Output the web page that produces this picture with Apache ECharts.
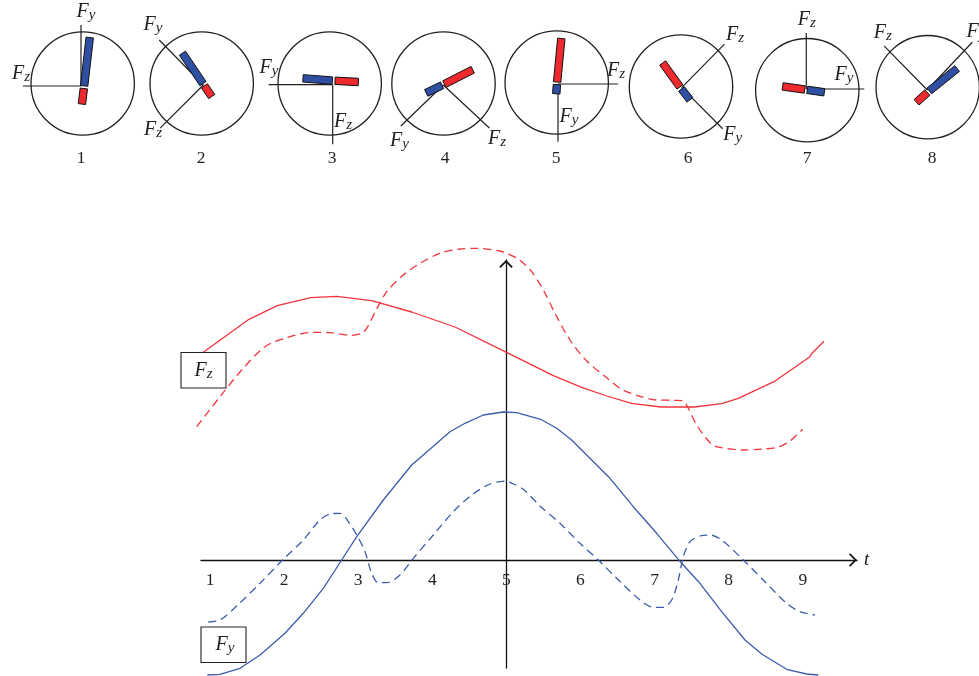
<!DOCTYPE html>
<html>
<head>
<meta charset="utf-8">
<style>html,body{margin:0;padding:0;background:#fff}#c{width:979px;height:676px}</style>
<script src="https://cdn.jsdelivr.net/npm/echarts@6/dist/echarts.min.js"></script>
</head>
<body>
<div id="c"></div>
<script>
// ---- data: curves (t, force) ----
const timeTicks = [1,2,3,4,5,6,7,8,9];
const fzSolid = [[0.91,2.077],[1.526,2.407],[1.908,2.543],[2.359,2.623],[2.71,2.637],[3.182,2.593],[3.722,2.48],[4.306,2.33],[4.981,2.083],[5.633,1.843],[6.016,1.727],[6.354,1.64],[6.691,1.567],[7.086,1.53],[7.536,1.53],[7.905,1.563],[8.13,1.617],[8.611,1.783],[9.097,2.033],[9.115,2.06],[9.286,2.187]];
const fzDashed = [[0.821,1.333],[1.135,1.633],[1.428,1.9],[1.742,2.133],[2.035,2.223],[2.394,2.277],[2.619,2.273],[2.912,2.247],[3.047,2.267],[3.115,2.317],[3.25,2.51],[3.385,2.683],[3.609,2.85],[3.834,2.967],[4.104,3.067],[4.374,3.11],[4.599,3.117],[4.913,3.09],[4.981,3.073],[5.161,3.01],[5.341,2.883],[5.498,2.7],[5.656,2.467],[5.858,2.2],[6.084,1.99],[6.354,1.823],[6.556,1.707],[6.803,1.637],[7.028,1.6],[7.252,1.597],[7.379,1.593],[7.455,1.517],[7.568,1.35],[7.77,1.157],[7.905,1.123],[8.175,1.1],[8.467,1.11],[8.669,1.13],[8.827,1.19],[8.998,1.307]];
const fySolid = [[0.964,-1.15],[1.135,-1.143],[1.405,-1.083],[1.675,-0.95],[2.012,-0.733],[2.259,-0.533],[2.529,-0.283],[2.777,0],[2.98,0.233],[3.339,0.6],[3.722,0.95],[4.239,1.283],[4.441,1.367],[4.688,1.45],[4.958,1.48],[5.139,1.473],[5.463,1.407],[5.679,1.317],[5.881,1.2],[6.128,1.017],[6.398,0.817],[6.712,0.533],[7.028,0.267],[7.365,-0.033],[7.612,-0.233],[7.905,-0.517],[8.22,-0.8],[8.445,-0.94],[8.782,-1.093],[9.052,-1.14],[9.209,-1.15]];
const fyDashed = [[0.977,-0.62],[1.135,-0.6],[1.36,-0.46],[1.675,-0.233],[1.989,0.007],[2.259,0.2],[2.484,0.4],[2.619,0.46],[2.754,0.467],[2.845,0.407],[2.98,0.25],[3.092,0.083],[3.182,-0.133],[3.271,-0.227],[3.385,-0.227],[3.564,-0.15],[3.744,0.017],[4.013,0.25],[4.283,0.483],[4.532,0.65],[4.779,0.76],[5.004,0.79],[5.049,0.777],[5.228,0.707],[5.453,0.54],[5.723,0.367],[5.993,0.167],[6.24,0],[6.488,-0.183],[6.803,-0.4],[6.982,-0.473],[7.117,-0.473],[7.231,-0.4],[7.32,-0.2],[7.387,0.033],[7.478,0.183],[7.612,0.24],[7.747,0.25],[7.905,0.2],[8.197,0],[8.467,-0.2],[8.782,-0.433],[8.962,-0.517],[9.164,-0.55]];

// ---- data: the eight dials ----
const dialNames   = ['1','2','3','4','5','6','7','8'];
const fyAxisAngle = [90,134.4,180,224,270,315,0,46.7];
const fyAxisLen   = [61,63,64,59,57.7,58,58,65.6];
const fzAxisAngle = [180,225,270,317,0,45.5,90,134.4];
const fzAxisLen   = [58,61,59.6,63,60,61,56,61.5];
const blueAngle   = [83.4,124,175.6,205.7,266,308,352,38.8];
const blueLen     = [50,38,30.8,19,10.5,15,18.5,37];
const redAngle    = [263,304,357,27,84.5,125.8,172,222];
const redLen      = [17,14.3,24.7,33,45,30.8,23.6,15.8];

// ---- layout (pixels) ----
const axisOrigin  = [[81,86],[203.3,85],[332.7,84.7],[443.3,85],[558,84],[681.7,87.7],[806.3,89],[927.3,90]];
const circleAt    = [[82.7,83.5],[201.7,83.5],[329.7,83.5],[443.5,83.5],[556.7,82.5],[681,86.5],[807.3,90.2],[927.7,87.2]];
const pivotAt     = [[84,87.2],[203.7,84.7],[333.7,80.7],[443.3,84.7],[557,83.3],[680.7,88],[806,89.7],[928.3,91.7]];
const fyLabelAt   = [[86,12],[153,25],[269,68],[399.5,141],[569,117],[732.7,135],[844,75],[976,32]];
const fzLabelAt   = [[21,74],[153,130],[343,122],[497,139],[616,71],[735,35],[806.7,20],[882.7,33]];
const numberAt    = [[81,158],[201,158],[332,158],[445,158],[556,158],[688,158],[807,158],[932,158]];
const circleR = 51.7, barW = 7.4;

const SERIF = '"Liberation Serif","DejaVu Serif",serif';
const INK = '#231f20', BLUE = '#2f50a2', RED = '#ee2a2e', BLUE_LINE='#3c5cab', RED_LINE='#f1333b';

function forceText(sub){
  return {
    text:'{F|F}{s|'+sub+'}',
    rich:{
      F:{fontFamily:SERIF,fontStyle:'italic',fontSize:20,fill:INK,color:INK,lineHeight:22},
      s:{fontFamily:SERIF,fontStyle:'italic',fontSize:15,fill:INK,color:INK,verticalAlign:'bottom',lineHeight:15,padding:[6,0,0,0]}
    },
    align:'center',verticalAlign:'middle'
  };
}

function dialRender(i){
  return function(params, api){
    const o = api.coord([0,0]);
    const off = [pivotAt[i][0]-o[0], pivotAt[i][1]-o[1]];
    const lineOf = (r,a)=>{
      const p = api.coord([r,a]);
      return {type:'line',shape:{x1:o[0],y1:o[1],x2:p[0],y2:p[1]},style:{stroke:INK,lineWidth:1.2,fill:null}};
    };
    const bar = (r,a,fill)=>{
      const p = api.coord([r,a]);
      const e=[p[0]+off[0],p[1]+off[1]], s=pivotAt[i];
      const dx=e[0]-s[0], dy=e[1]-s[1], L=Math.hypot(dx,dy)||1;
      const ux=dx/L, uy=dy/L, nx=-uy*barW/2, ny=ux*barW/2;
      const gap=1.3, b=[s[0]+ux*gap,s[1]+uy*gap];
      return {type:'polygon',shape:{points:[[b[0]+nx,b[1]+ny],[e[0]+nx,e[1]+ny],[e[0]-nx,e[1]-ny],[b[0]-nx,b[1]-ny]]},
              style:{fill:fill,stroke:'#111',lineWidth:1}};
    };
    const label=(at,sub)=>({type:'text',x:at[0],y:at[1],style:forceText(sub)});
    return {type:'group',children:[
      {type:'circle',shape:{cx:circleAt[i][0],cy:circleAt[i][1],r:circleR},style:{fill:null,stroke:INK,lineWidth:1.3}},
      lineOf(fyAxisLen[i],fyAxisAngle[i]),
      lineOf(fzAxisLen[i],fzAxisAngle[i]),
      bar(blueLen[i],blueAngle[i],BLUE),
      bar(redLen[i],redAngle[i],RED),
      label(fyLabelAt[i],'y'),
      label(fzLabelAt[i],'z'),
      {type:'text',x:numberAt[i][0],y:numberAt[i][1],style:{text:dialNames[i],fontFamily:SERIF,fontSize:17.5,fill:INK,align:'center',verticalAlign:'middle'}}
    ]};
  };
}

const polar=[], radiusAxis=[], angleAxis=[], dialSeries=[];
dialNames.forEach((n,i)=>{
  polar.push({center:axisOrigin[i],radius:100});
  radiusAxis.push({polarIndex:i,show:false,type:'value',min:0,max:100});
  angleAxis.push({polarIndex:i,show:false,type:'value',min:0,max:360,startAngle:0,clockwise:false});
  dialSeries.push({type:'custom',name:'Dial '+n,coordinateSystem:'polar',polarIndex:i,
    data:[[blueLen[i],blueAngle[i]]],encode:{radius:0,angle:1},silent:true,clip:false,renderItem:dialRender(i),z:5});
});

const curve=(name,data,color,dashed,smooth,axisIndex)=>({
  type:'line',name,data,symbol:'none',clip:false,smooth,silent:true,z:3,
  xAxisIndex:axisIndex||0,yAxisIndex:axisIndex||0,
  lineStyle:{color,width:1.3,type:dashed?[8,5]:'solid'}
});

const chevron='path://M0 11 L11 0 L22 11 L20 13 L11 4 L2 13 Z';
const chart=echarts.init(document.getElementById('c'),null,{renderer:'canvas'});
chart.setOption({
  animation:false,
  backgroundColor:'#fff',
  tooltip:{show:false},
  // second, invisible grid has the same scale but reaches further left, for the curve starting before the axis line
  grid:[
    {left:201,right:122,top:260,bottom:8,containLabel:false,outerBoundsMode:'none'},
    {left:190,right:122,top:260,bottom:8,containLabel:false,outerBoundsMode:'none'}
  ],
  xAxis:[
    {type:'value',gridIndex:0,min:0.8785,max:9.7315,name:'t',nameLocation:'end',nameGap:7,position:'bottom',offset:-108,
      nameTextStyle:{fontFamily:SERIF,fontStyle:'italic',fontSize:19,color:INK,padding:[3,0,0,0]},
      splitLine:{show:false},axisTick:{show:false},
      axisLine:{onZero:false,lineStyle:{color:'#111',width:1.3},symbol:['none',chevron],symbolSize:[14,8],symbolOffset:[0,-4]},
      axisLabel:{customValues:timeTicks,margin:11,fontFamily:SERIF,fontSize:17.5,color:INK,hideOverlap:false,
        showMinLabel:true,showMaxLabel:true,formatter:v=>String(v)}},
    {type:'value',gridIndex:1,show:false,min:0.7301,max:9.7315}
  ],
  yAxis:[
    {type:'value',gridIndex:0,min:-1.08,max:3,position:'left',offset:-305,
      splitLine:{show:false},axisTick:{show:false},axisLabel:{show:false},
      axisLine:{show:true,onZero:false,lineStyle:{color:'#111',width:1.3},symbol:['none',chevron],symbolSize:[14,8],symbolOffset:[0,-4]}},
    {type:'value',gridIndex:1,show:false,min:-1.08,max:3}
  ],
  polar,radiusAxis,angleAxis,
  series:[
    curve('Fz',fzSolid,RED_LINE,false,false),
    curve('Fz dashed',fzDashed,RED_LINE,true,0.3,1),
    curve('Fy',fySolid,BLUE_LINE,false,false),
    curve('Fy dashed',fyDashed,BLUE_LINE,true,0.3),
    ...dialSeries
  ],
  graphic:[
    {type:'rect',shape:{x:181,y:352.5,width:45,height:35.5},style:{fill:'transparent',stroke:'#222',lineWidth:1.1},z:6},
    {type:'text',x:203.5,y:370.5,style:forceText('z'),z:6},
    {type:'rect',shape:{x:201,y:627,width:45,height:35.5},style:{fill:'transparent',stroke:'#222',lineWidth:1.1},z:6},
    {type:'text',x:225,y:644.5,style:forceText('y'),z:6}
  ]
});
</script>
</body>
</html>
